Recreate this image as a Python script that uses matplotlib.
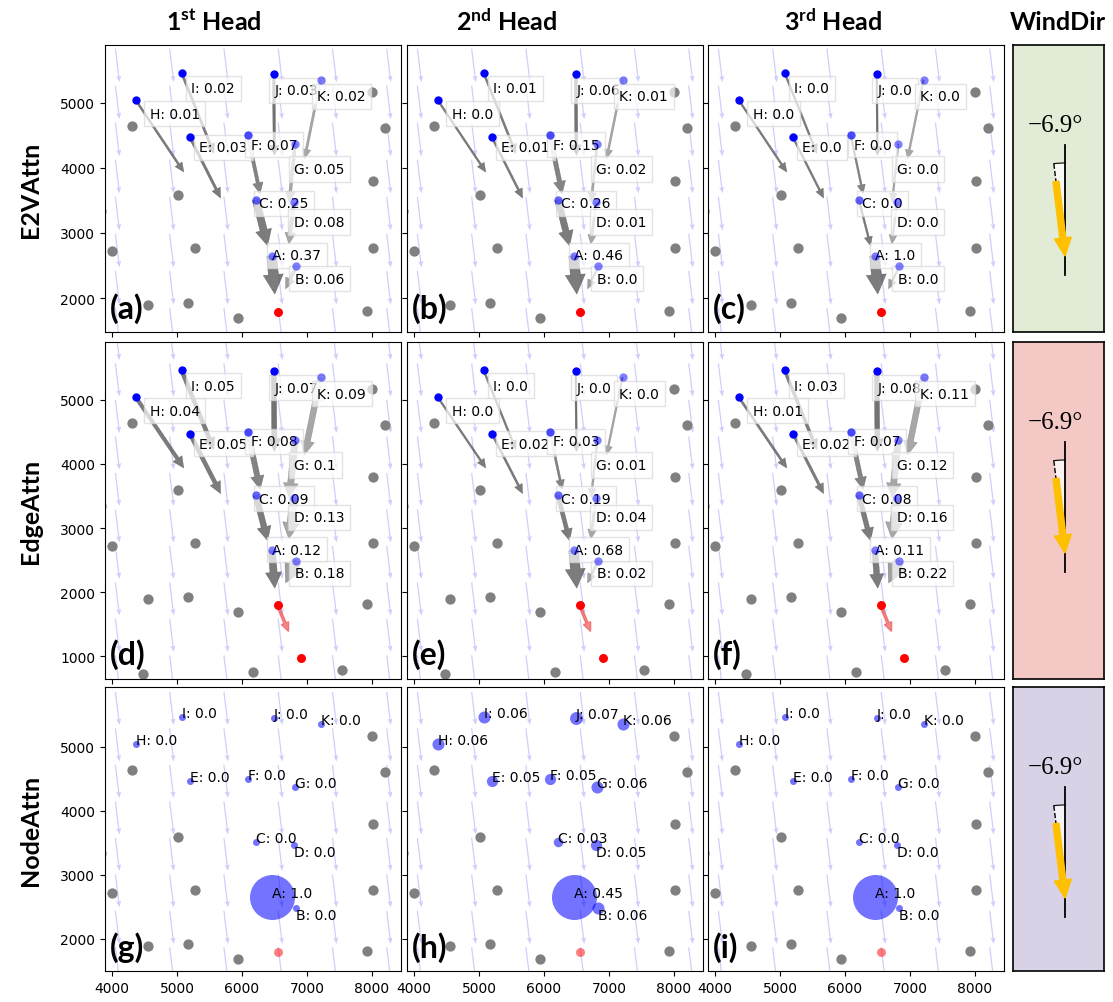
import numpy as np
import matplotlib.pyplot as plt

# fonts: labels in DejaVu, headers in Lato bold
plt.rcParams['font.family'] = ['DejaVu Sans']
plt.rcParams['mathtext.fontset'] = 'custom'
plt.rcParams['mathtext.rm'] = 'Lato'
plt.rcParams['mathtext.bf'] = 'Lato:bold'

# ---- data ----
names = ['A', 'B', 'C', 'D', 'E', 'F', 'G', 'H', 'I', 'J', 'K']
node_x = [6460, 6840, 6215, 6800, 5200, 6090, 6820, 4360, 5070, 6490, 7210]
node_y = [2650, 2490, 3510, 3470, 4470, 4500, 4370, 5050, 5465, 5450, 5355]
# edge vector leaving each node
edge_dx = [46, -169, 180, -77, 472, 190, -92, 744, 497, 10, -246]
edge_dy = [-590, -349, -708, -641, -933, -897, -897, -1113, -1241, -1256, -1215]

other_x = [4312, 8200, 8010, 5020, 8020, 3995, 5277, 8020, 4560, 5174, 5943, 7928, 4470, 6175, 7545, 3835]
other_y = [4642, 4615, 5165, 3589, 3795, 2718, 2769, 2769, 1897, 1923, 1692, 1805, 720, 745, 781, 3340]

target_x = [6550, 6915]
target_y = [1790, 965]
target_dx, target_dy = 167, -406

wind_deg = -6.9

e2v_attn = [
    [0.37, 0.06, 0.25, 0.08, 0.03, 0.07, 0.05, 0.01, 0.02, 0.03, 0.02],
    [0.46, 0.0, 0.26, 0.01, 0.01, 0.15, 0.02, 0.0, 0.01, 0.06, 0.01],
    [1.0, 0.0, 0.0, 0.0, 0.0, 0.0, 0.0, 0.0, 0.0, 0.0, 0.0],
]
edge_attn = [
    [0.12, 0.18, 0.09, 0.13, 0.05, 0.08, 0.1, 0.04, 0.05, 0.07, 0.09],
    [0.68, 0.02, 0.19, 0.04, 0.02, 0.03, 0.01, 0.0, 0.0, 0.0, 0.0],
    [0.11, 0.22, 0.08, 0.16, 0.02, 0.07, 0.12, 0.01, 0.03, 0.08, 0.11],
]
node_attn = [
    [1.0, 0.0, 0.0, 0.0, 0.0, 0.0, 0.0, 0.0, 0.0, 0.0, 0.0],
    [0.45, 0.06, 0.03, 0.05, 0.05, 0.05, 0.06, 0.06, 0.06, 0.07, 0.06],
    [1.0, 0.0, 0.0, 0.0, 0.0, 0.0, 0.0, 0.0, 0.0, 0.0, 0.0],
]

head_names = ['1', '2', '3']
head_sup = ['st', 'nd', 'rd']
row_names = ['E2VAttn', 'EdgeAttn', 'NodeAttn']
panel_tags = ['(a)', '(b)', '(c)', '(d)', '(e)', '(f)', '(g)', '(h)', '(i)']

# ---- layout / style ----
W, H = 1113, 1003
col_left = [105, 407, 708]
col_w = 296
row_top = [46, 343, 688]
row_h = [287, 337, 284]
row_ylim = [(1477, 5892), (641, 5906), (1500, 5937)]
row_yticks = [[2000, 3000, 4000, 5000], [1000, 2000, 3000, 4000, 5000], [2000, 3000, 4000, 5000]]
wind_colors = ['#e2ebd5', '#f3c8c5', '#d9d1e6']

# label offsets (data units) for the boxed labels
lab_off = {'A': (10, 10), 'B': (-25, -195), 'C': (50, -55), 'D': (0, -300),
           'E': (140, -150), 'F': (45, -145), 'G': (-15, -385), 'H': (220, -215),
           'I': (150, -240), 'J': (10, -255), 'K': (-50, -255)}
node_alpha = [0.5, 0.5, 0.6, 0.5, 1, 0.7, 0.5, 1, 1, 1, 0.5]
arrow_alpha = [0.75, 0.55, 0.75, 0.5, 0.75, 0.7, 0.5, 0.75, 0.75, 0.8, 0.5]


def px_axes(fig, left, top, w, h, **kw):
    return fig.add_axes([left / W, 1 - (top + h) / H, w / W, h / H], **kw)


def draw_wind_field(ax, ylim):
    th = np.deg2rad(wind_deg)
    L = 520
    xs = np.arange(4050, 8500, 836)
    ys = np.arange(ylim[0] - 200, ylim[1] + 400, 570)
    gx, gy = np.meshgrid(xs, ys)
    u = np.full(gx.shape, -L * np.sin(th))
    v = np.full(gx.shape, -L * np.cos(th))
    ax.quiver(gx, gy, u, v, angles='xy', scale_units='xy', scale=1,
              color='#cfcffc', width=0.0042, headwidth=4, headlength=5,
              headaxislength=4.5, zorder=1)


def draw_graph_panel(ax, attn, row):
    ylim = row_ylim[row]
    ax.set_xlim(3890, 8450)
    ax.set_ylim(*ylim)
    draw_wind_field(ax, ylim)
    ax.scatter(other_x, other_y, s=55, color='gray', zorder=2, linewidths=0)

    if row < 2:
        # red target (and the next step in row 2)
        nt = 2 if row == 1 else 1
        ax.scatter(target_x[:nt], target_y[:nt], s=42, color='red', zorder=5, linewidths=0)
        if row == 1:
            ax.arrow(target_x[0], target_y[0], target_dx, target_dy, width=35, head_width=120,
                     head_length=140, length_includes_head=True, fc='#f06060', ec='#f06060',
                     alpha=0.75, zorder=3)
        amax = max(attn)
        for i, n in enumerate(names):
            r = attn[i] / amax
            ax.arrow(node_x[i], node_y[i], edge_dx[i], edge_dy[i],
                     width=28 + 125 * r, head_width=125 + 185 * r, head_length=140 + 160 * r,
                     length_includes_head=True, fc='#505050', ec='#505050', lw=0.3,
                     alpha=arrow_alpha[i], zorder=3)
            ox, oy = lab_off[n]
            ax.text(node_x[i] + ox, node_y[i] + oy, f'{n}: {round(attn[i], 2)}',
                    fontsize=10, ha='left', va='center', zorder=4,
                    bbox=dict(boxstyle='square,pad=0.4', fc='white', ec='#d8d8d8', alpha=0.7, lw=1))
            ax.scatter(node_x[i], node_y[i], s=36, color='blue', alpha=node_alpha[i],
                       zorder=5, linewidths=0)
    else:
        ax.scatter(target_x[:1], target_y[:1], s=42, color='red', alpha=0.5, zorder=5, linewidths=0)
        amax = max(attn)
        for i, n in enumerate(names):
            r = attn[i] / amax
            d = (7 + 38 * r) * 0.72
            ax.scatter(node_x[i], node_y[i], s=d ** 2, color='blue', alpha=0.55,
                       zorder=4, linewidths=0)
            va = 'top' if n in ('B', 'D') else 'baseline'
            ax.text(node_x[i], node_y[i], f'{n}: {round(attn[i], 2)}',
                    fontsize=10, ha='left', va=va, zorder=6)

    ax.set_xticks([4000, 5000, 6000, 7000, 8000])
    ax.set_yticks(row_yticks[row])
    ax.tick_params(labelsize=10)


def draw_wind_panel(ax, h, color):
    ax.set_facecolor(color)
    ax.set_xlim(0, 91)
    ax.set_ylim(h, 0)
    ax.set_xticks([])
    ax.set_yticks([])
    for s in ax.spines.values():
        s.set_linewidth(1.2)
    px, py = 52, 211
    th = np.deg2rad(wind_deg)
    # reference vertical
    ax.plot([px, px], [100, 230], color='black', lw=1.3, zorder=2)
    # angle wedge
    R = 93
    t = np.linspace(0, th, 20)
    wx = np.concatenate([[px], px + R * np.sin(t), [px]])
    wy = np.concatenate([[py], py - R * np.cos(t), [py]])
    ax.fill(wx, wy, color='white', alpha=0.75, lw=0, zorder=1)
    ax.plot(px + R * np.sin(t), py - R * np.cos(t), color='black', lw=0.8, zorder=2)
    L = 75
    tx, ty = px + L * np.sin(th), py - L * np.cos(th)
    ax.plot([px + R * np.sin(th), tx], [py - R * np.cos(th), ty], color='black', lw=1, ls='--', zorder=2)
    ax.arrow(tx, ty, px - tx, py - ty, width=6, head_width=17, head_length=18,
             length_includes_head=True, color='#ffc000', zorder=3)
    ax.text(42, 80, f'{wind_deg:.1f}°'.replace('-', '\u2212'), family='Liberation Serif',
            fontsize=18, ha='center', va='center')


fig = plt.figure(figsize=(W / 100, H / 100), dpi=100)

all_attn = [e2v_attn, edge_attn, node_attn]
for row in range(3):
    for col in range(3):
        ax = px_axes(fig, col_left[col], row_top[row], col_w, row_h[row])
        draw_graph_panel(ax, all_attn[row][col], row)
        ax.tick_params(labelleft=(col == 0), labelbottom=(row == 2))
        ax.text(0.015, 0.03, panel_tags[row * 3 + col], transform=ax.transAxes,
                family='Lato', fontweight='bold', fontsize=23, ha='left', va='bottom', zorder=7)
    wax = px_axes(fig, 1013, row_top[row], 91, row_h[row])
    draw_wind_panel(wax, row_h[row], wind_colors[row])

    # row title
    fig.text(30 / W, 1 - (row_top[row] + row_h[row] / 2) / H, row_names[row], rotation=90,
             family='Lato', fontweight='bold', fontsize=18, ha='center', va='center')

# column titles
head_cx = [214, 507, 833]
for col in range(3):
    fig.text(head_cx[col] / W, 1 - 22 / H,
             r'$\mathbf{' + head_names[col] + '^{' + head_sup[col] + '}}$ Head',
             family='Lato', fontweight='bold', fontsize=18, ha='center', va='center')
fig.text(1058 / W, 1 - 22 / H, 'WindDir', family='Lato', fontweight='bold',
         fontsize=18, ha='center', va='center')

fig.savefig('out.png', dpi=100)
